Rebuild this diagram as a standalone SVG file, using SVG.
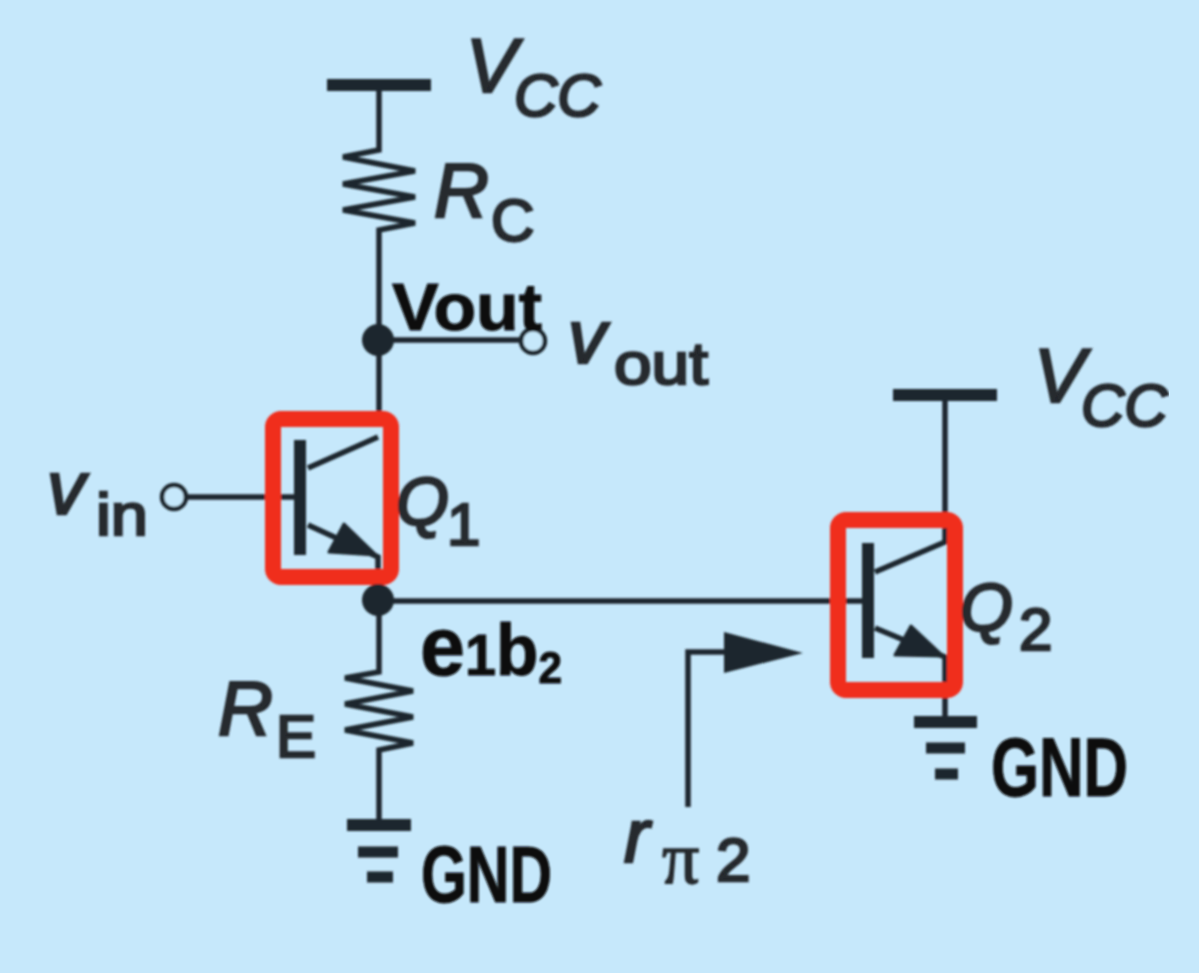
<svg xmlns="http://www.w3.org/2000/svg" width="1199" height="973" viewBox="0 0 1199 973">
<defs><filter id="soft" x="0" y="0" width="100%" height="100%"><feGaussianBlur stdDeviation="0.9"/></filter></defs>
<style>
.w{fill:none;stroke:#1f272d;stroke-width:5.5}
.b{fill:none;stroke:#1f272d}
.r{fill:none;stroke:#f02d1c;stroke-width:16}
.f{fill:#1f272d;stroke:none}
.a{fill:#1f272d;stroke:#1f272d;stroke-width:3;stroke-linejoin:round}
.o{fill:#c6e8fb;stroke:#1f272d;stroke-width:4.5}
.t{font-family:"Liberation Sans",Arial,sans-serif;fill:#25292d;stroke:#25292d;stroke-width:2.6}
.i{font-style:italic;font-size:76px}
.c{font-style:italic;font-size:60px}
.s{font-size:60px}
.h{font-family:"Liberation Sans",Arial,sans-serif;font-weight:bold;fill:#0c0d0f;stroke:#0c0d0f;stroke-width:1}
</style>
<rect width="1199" height="973" fill="#c6e8fb"/>
<g filter="url(#soft)">
<g id="connectors">
<path class="w" d="M379 88V150L343 157L415 171L343 184L415 197L343 210L415 223L379 230V412"/>
<path class="w" d="M379 340H522"/>
<path class="w" d="M186 497H298"/>
<path class="w" d="M378 437L308 468M308 525L378 557V600"/>
<path class="w" d="M379 600V672L345 678L413 691L345 704L413 717L345 730L413 743L379 750V825"/>
<path class="w" d="M379 601H865"/>
<path class="w" d="M945 395V542L875 572M875 628L945 657V722"/>
<path class="w" d="M688 807V652H730"/>
</g>
<g id="Q1"><path class="b" stroke-width="12" d="M300 440V555"/><path class="a" d="M376 555L329 552L344 524Z"/><rect class="r" x="273" y="419" width="118" height="158" rx="8"/><text class="t i" x="396" y="525" style="font-size:68px">Q</text><text class="t s" x="447" y="545">1</text></g>
<g id="Q2"><path class="b" stroke-width="12" d="M868 543V658"/><path class="a" d="M943 656L895 655L911 626Z"/><rect class="r" x="838" y="520" width="117" height="170" rx="8"/><text class="t i" x="960" y="631" style="font-size:68px">Q</text><text class="t s" x="1019" y="650">2</text></g>
<g id="vcc1"><path class="b" stroke-width="12" d="M327 85H431"/><text class="t i" x="466" y="92">V</text><text class="t c" x="514" y="116">CC</text></g>
<g id="vcc2"><path class="b" stroke-width="12" d="M893 395H997"/><text class="t i" x="1034" y="402">V</text><text class="t c" x="1081" y="426">CC</text></g>
<g id="rc"><text class="t i" x="434" y="217">R</text><text class="t s" x="491" y="241">C</text></g>
<g id="re"><text class="t i" x="218" y="735">R</text><text class="t s" x="276" y="757">E</text></g>
<g id="vout"><circle class="f" cx="378" cy="340" r="16"/><circle class="o" cx="533" cy="341" r="12"/><text class="t i" x="568" y="363">v</text><text class="t s" x="614" y="384" textLength="94" lengthAdjust="spacingAndGlyphs">out</text><text class="h" x="392" y="330" font-size="66" textLength="150" lengthAdjust="spacingAndGlyphs">Vout</text></g>
<g id="vin"><circle class="o" cx="174" cy="497" r="12"/><text class="t i" x="47" y="514">v</text><text class="t s" x="96" y="535" textLength="52" lengthAdjust="spacingAndGlyphs">in</text></g>
<g id="e1b2"><circle class="f" cx="378" cy="600" r="16"/><text class="h" x="420" y="675" font-size="84" textLength="142" lengthAdjust="spacingAndGlyphs">e<tspan font-size="58">1</tspan><tspan font-size="72">b</tspan><tspan font-size="44" dy="8">2</tspan></text></g>
<g id="gnd1"><path class="b" stroke-width="12" d="M347 825H411"/><path class="b" stroke-width="11" d="M358 852H398M367 877H393"/><text class="h" x="421" y="902" font-size="80" textLength="131" lengthAdjust="spacingAndGlyphs">GND</text></g>
<g id="gnd2"><path class="b" stroke-width="12" d="M914 722H977"/><path class="b" stroke-width="11" d="M926 748H965M935 774H958"/><text class="h" x="991" y="796" font-size="84" textLength="137" lengthAdjust="spacingAndGlyphs">GND</text></g>
<g id="rpi"><path class="f" d="M724 632L803 653L724 673Z"/><text class="t i" x="624" y="862">r</text><text x="662" y="883" class="t" style="font-family:'Liberation Serif',serif;font-size:74px;stroke-width:1.5">π</text><text class="t" x="716" y="881" style="font-size:62px">2</text></g>
</g>
</svg>
